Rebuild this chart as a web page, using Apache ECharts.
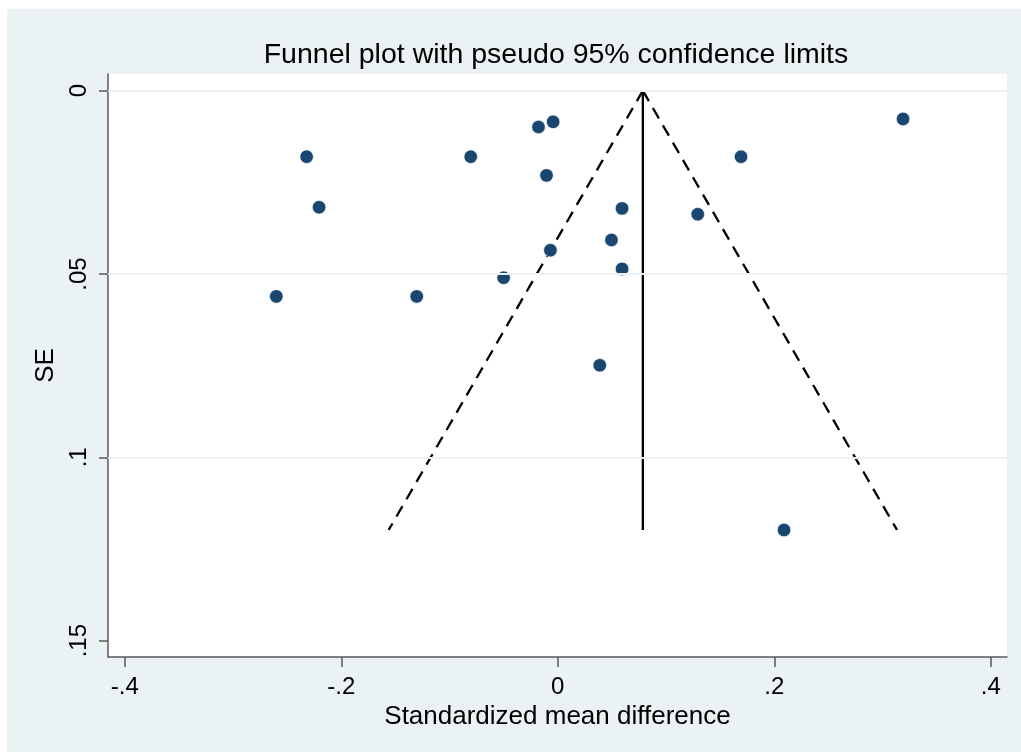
<!DOCTYPE html>
<html>
<head>
<meta charset="utf-8">
<script src="https://cdn.jsdelivr.net/npm/echarts@6/dist/echarts.min.js"></script>
<style>
  html, body { margin: 0; padding: 0; background: #ffffff; }
  #wrap { position: relative; width: 1021px; height: 752px; background: #ffffff; overflow: hidden; }
  #chart { position: absolute; left: 7px; top: 9px; width: 1014px; height: 743px; background: #EAF2F3; }
</style>
</head>
<body>
<div id="wrap"><div id="chart"></div></div>
<script>
// ---- data ----
const titleText = 'Funnel plot with pseudo 95% confidence limits';
const xTitle = 'Standardized mean difference';
const yTitle = 'SE';
const xTicks = [-0.4, -0.2, 0, 0.2, 0.4];
const yTicks = [0, 0.05, 0.1, 0.15];
const yGrid = [0, 0.05, 0.1];

// study effects (standardized mean difference) and standard errors
const smd = [-0.232, -0.2205, -0.2600, -0.1303, -0.0804, -0.0178, -0.0043, -0.0104, 0.0594,
             0.0496, -0.0068, 0.0594, -0.0500, 0.0388, 0.1293, 0.1693, 0.3190, 0.2090];
const se  = [0.0180, 0.0318, 0.0561, 0.0561, 0.0180, 0.0099, 0.0085, 0.0231, 0.0321,
             0.0407, 0.0435, 0.0486, 0.0510, 0.0749, 0.0337, 0.0180, 0.0077, 0.1198];

// pooled estimate line and pseudo 95% limits
const pooledLine = [[0.0786, 0], [0.0786, 0.1198]];
const lowerLimit = [[0.0786, 0], [-0.1562, 0.1198]];
const upperLimit = [[0.0786, 0], [0.3134, 0.1198]];

// ---- chart ----
const fmt = v => {
  if (Math.abs(v) < 1e-12) return '0';
  const s = String(Math.abs(+v.toFixed(4))).replace(/^0/, '');
  return (v < 0 ? '-' : '') + s;
};
const FONT = '"Liberation Sans", Arial, Helvetica, sans-serif';
const axisColor = '#5a5a5a';

const chart = echarts.init(document.getElementById('chart'), null, { renderer: 'canvas' });
const points = smd.map((x, i) => [x, se[i]]);

chart.setOption({
  backgroundColor: 'transparent',
  animation: false,
  title: {
    text: titleText,
    left: 544,
    top: 27,
    textAlign: 'center',
    textStyle: { fontFamily: FONT, fontSize: 28.5, fontWeight: 'normal', color: '#000' }
  },
  grid: {
    left: 101, right: 14, top: 65, bottom: 95,
    show: true, backgroundColor: '#ffffff', borderWidth: 0
  },
  xAxis: {
    type: 'value',
    min: -0.4155, max: 0.415,
    name: xTitle,
    nameLocation: 'middle',
    nameGap: 42,
    nameTextStyle: { fontFamily: FONT, fontSize: 26, color: '#000' },
    axisLine: { show: true, onZero: false, lineStyle: { color: axisColor, width: 1.5 } },
    axisTick: { show: true, length: 10, customValues: xTicks, lineStyle: { color: axisColor, width: 1.5 } },
    axisLabel: { customValues: xTicks, formatter: fmt, margin: 18, fontFamily: FONT, fontSize: 24, color: '#000' },
    splitLine: { show: false }
  },
  yAxis: {
    type: 'value',
    inverse: true,
    min: -0.00455, max: 0.15445,
    name: yTitle,
    nameLocation: 'middle',
    nameGap: 44,
    nameRotate: 90,
    nameTextStyle: { fontFamily: FONT, fontSize: 26, color: '#000' },
    axisLine: { show: true, onZero: false, lineStyle: { color: axisColor, width: 1.5 } },
    axisTick: { show: true, length: 9, customValues: yTicks, lineStyle: { color: axisColor, width: 1.5 } },
    axisLabel: { customValues: yTicks, formatter: fmt, rotate: 90, margin: 17, fontFamily: FONT, fontSize: 24, color: '#000' },
    splitLine: { show: false }
  },
  series: [
    {
      type: 'line', silent: true, symbol: 'none', data: [], z: 1,
      markLine: {
        silent: true, symbol: 'none', label: { show: false },
        lineStyle: { color: '#EAF2F3', width: 2, type: 'solid' },
        data: yGrid.map(v => ({ yAxis: v }))
      }
    },
    {
      type: 'line', data: pooledLine, symbol: 'none', silent: true, z: 3,
      lineStyle: { color: '#000', width: 2.3, type: 'solid' }
    },
    {
      type: 'line', data: lowerLimit, symbol: 'none', silent: true, z: 3,
      lineStyle: { color: '#000', width: 2.3, type: [12, 8] }
    },
    {
      type: 'line', data: upperLimit, symbol: 'none', silent: true, z: 3,
      lineStyle: { color: '#000', width: 2.3, type: [12, 8] }
    },
    {
      type: 'scatter', data: points, symbol: 'circle', symbolSize: 13.5, z: 4,
      itemStyle: { color: '#1A476F', borderColor: '#ffffff', borderWidth: 0.6, opacity: 1 }
    }
  ]
});
</script>
</body>
</html>
